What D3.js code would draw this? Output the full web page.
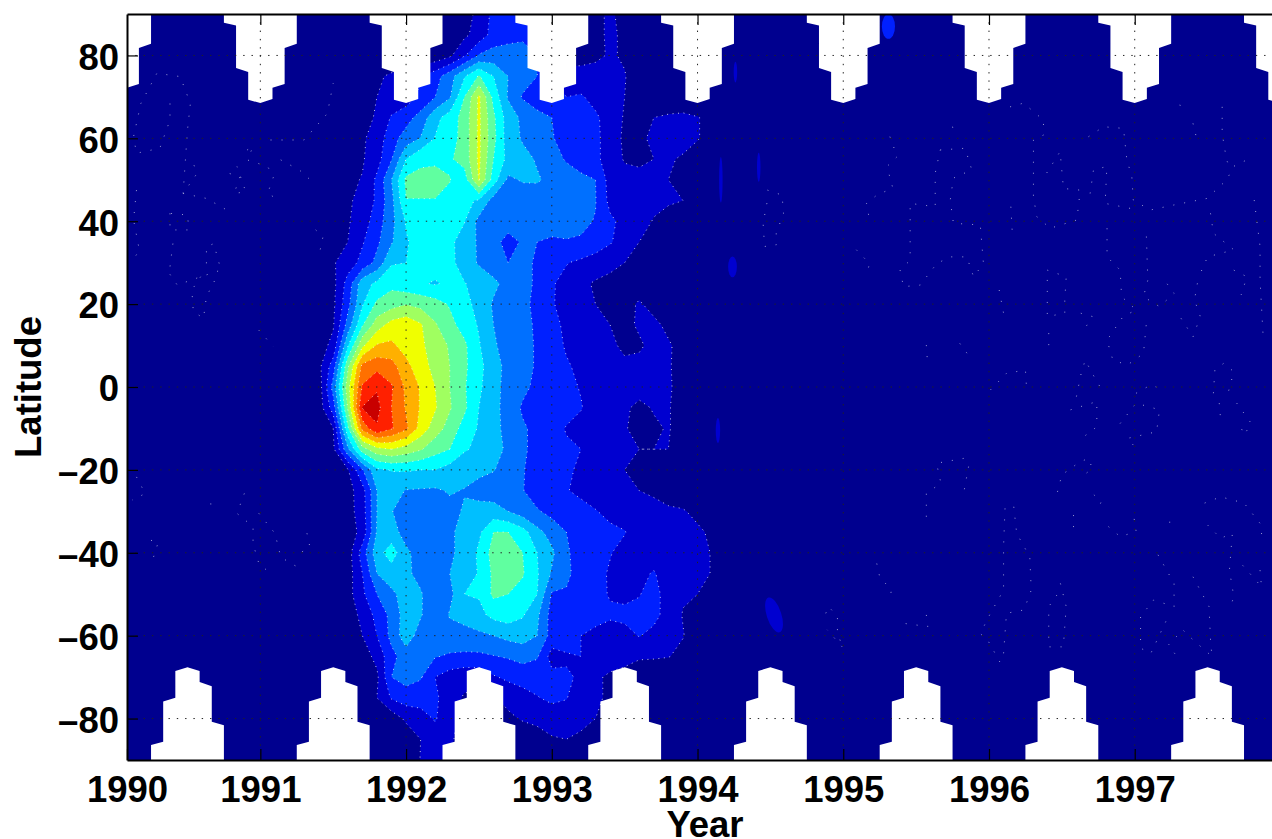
<!DOCTYPE html>
<html>
<head>
<meta charset="utf-8">
<script src="https://cdn.jsdelivr.net/npm/d3@7"></script>
<style>
html,body{margin:0;padding:0;background:#fff;overflow:hidden}
svg{display:block}
text{font-family:"Liberation Sans",Arial,sans-serif;font-weight:700;fill:#000}
</style>
</head>
<body>
<svg id="chart" width="1272" height="839"></svg>
<script>
// Field values in contour-band units, one row per latitude (90 to -90, step 5),
// one column per 0.1 year starting at 1991.3. Omitted trailing columns are below the first level.
const fieldStartYear = 1991.3;
const fieldYearStep = 0.1;
const fieldLatStep = 5;
const field = [
/* 90*/[0,0,0,0,0,0,0,0,0,0,.2,.7,1.2,2.3,2.5,2.5,2,2,1.5,.6,.7,1.2,.6],
/* 85*/[0,0,0,0,0,0,0,0,0,0,.4,.8,1.4,2.4,2.6,2.8,2.5,2,1,.5,.7,1.2,.8],
/* 80*/[0,0,0,0,0,0,0,0,.1,.3,.8,1.9,3.1,3.4,3.5,3.4,3,2,.5,.6,.8,1.1,.9,.3],
/* 75*/[0,0,0,0,.2,.8,1.2,1.5,2,2.6,3.6,4.9,6.1,5,4,3.5,3,2,1.5,1.4,1.4,1.3,1.05,.5],
/* 70*/[0,0,0,0,.3,1,1.3,1.5,2.2,3,3.9,6,8.2,5.7,3.9,2.9,2.3,2.1,2,2.1,1.7,1.3,1,.4],
/* 65*/[0,.1,.2,.4,.7,1.1,2.1,2.6,3.4,4.7,5.45,6.4,8.2,6.2,4.5,3.8,3.4,3,2.7,2.4,2.15,1.6,.9,.7,1,1.2,1.3,1.05,.7,.3,.1],
/* 60*/[0,.2,.3,.5,.85,1.45,2.6,3.45,4.05,5.05,5.55,6.4,8.2,6.3,4.5,3.9,3.4,3.05,2.75,2.45,2.2,1.6,.8,.9,1.1,1.25,1.3,1.05,.7,.3,.2],
/* 55*/[0,.2,.3,.6,.9,1.6,2.95,5,5.85,5.9,5.88,6.4,8.2,6,4.7,4.3,3.9,3.4,2.9,2.6,2.2,1.6,.9,.8,1,1.1,.9,.6,.4],
/* 50*/[0,.2,.5,.8,1.05,2.2,4,6.2,6.2,6.2,6.03,5.5,8.1,5.5,3.8,4.1,4.1,3.75,3.5,3.2,3,1.6,1.4,1.3,1.1,1,.7,.4,.3],
/* 45*/[0,.2,.5,.9,1.2,2.2,3.7,5.98,5.98,5.98,5.8,5.2,4.9,3.6,3.4,3.4,3.5,3.5,3.4,3.25,3.05,1.7,1.4,1.3,1.2,1.1,1,.6,.3],
/* 40*/[0,.2,.6,.9,1.5,2.5,3.7,5.1,5.3,5.3,5.2,5.05,3.7,3.5,3.4,3.5,3.5,3.3,3.3,3.2,2.95,2.2,1.7,1.3,.95,.7,.4],
/* 35*/[0,.2,.6,1,1.9,2.8,3.9,4.9,5.4,5.4,5.2,4.6,3.85,3.3,2.7,3.1,3,2.9,2.95,2.9,2.6,2.1,1.5,1,.8,.5,.2],
/* 30*/[0,.3,.9,1.5,2.3,3.3,4.9,5,5.4,5.5,5.3,4.5,3.9,3.5,3,3.2,2.9,2.2,2.05,1.8,1.5,1.3,1,.7,.5,.2],
/* 25*/[0,.3,.7,2.4,4.6,5.2,5.7,5.3,5.1,4.9,5.2,5.05,4.6,4.2,3.7,3.3,2.85,2.1,1.7,1.2,.9,.7,.6,.6,.5,.2],
/* 20*/[0,.1,.8,2.7,4.9,6.2,6.6,6.95,6.7,6.4,5.9,5.4,4.6,3.9,3.6,3.2,2.8,2.1,1.6,1.2,1,.7,.7,1.1,.7,.2],
/* 15*/[0,.3,.9,3.4,5.9,7.5,8.4,8.7,8.1,7.1,6.3,5.6,4.9,4,3.6,3.2,2.9,2.3,1.8,1.4,1.15,1,.8,1.1,1.2,.8,.2],
/* 10*/[0,.5,1.3,4.9,7.8,9.1,9.2,8.6,8.2,7.5,6.9,6.2,5.1,4.1,3.7,3.3,2.9,2.4,1.9,1.6,1.3,1.1,.9,.9,1.2,1.1,.7,.2],
/*  5*/[0,.7,2.5,6.8,10.3,10.7,10.4,9.3,8.4,7.7,7,6.2,5.3,4.4,3.7,3.3,2.9,2.5,2.1,1.8,1.5,1.35,1.1,1.2,1.2,1.05,.8,.4],
/*  0*/[0,.4,3.4,7.6,11.1,11.9,11.1,9.8,8.9,8,7,6.1,5.2,4.3,3.7,3.2,2.8,2.5,2.2,1.95,1.7,1.5,1.35,1.25,1.2,1.1,.7,.3],
/* -5*/[0,.4,2.5,7.1,12.05,12.3,11,9.9,8.9,8.1,7.1,6.2,5,4.4,3.5,2.9,2.7,2.5,2.3,2.05,1.6,1.3,1.1,.85,1.05,1.05,.7,.3],
/*-10*/[0,.3,1,5.8,10.3,11.9,11.1,10.2,8.6,7.5,6.6,5.6,4.9,4.3,3.7,3.1,2.8,2.3,1.95,1.7,1.4,1.2,1.05,.8,.9,1.05,.7,.3],
/*-15*/[0,.1,.8,3.8,6.6,7.7,8,7.6,7.1,6.4,6,5.1,4.8,4.4,3.8,3.1,2.8,2.4,2.1,2,1.5,1.25,1.1,1,1,1,.6],
/*-20*/[0,0,.3,.9,2.9,4.8,5.05,5.1,5,5,4.6,4.4,4.2,4.05,3.6,3.05,2.7,2.45,2.1,1.9,1.5,1.2,1,.8,.6,.3],
/*-25*/[0,0,.1,.6,1.6,4,4.4,3.95,3.9,3.85,4.1,3.95,3.7,3.5,3.35,3.05,2.5,2.2,2.05,1.8,1.55,1.3,1.15,1,.85,.6,.3],
/*-30*/[0,0,.1,.6,1.5,4,4.05,3.5,3.3,3.3,3.7,4.1,4.3,4.4,4,3.5,3.1,2.7,2.5,2.3,2.05,1.75,1.5,1.4,1.3,1.15,1.1,.7],
/*-35*/[0,0,.1,.5,1.3,4.1,4.4,3.6,3.3,3.2,3.9,4.2,4.8,6,6,5.4,4.3,3.6,3,2.6,2.3,2.2,2.05,1.5,1.4,1.3,1.3,1.2,.8],
/*-40*/[0,0,.1,.5,2.5,4.6,5.5,4.2,3.6,3.2,3.9,4.2,5.2,6.4,7,6,5,4.2,3.1,2.7,2.4,2.05,1.7,1.5,1.4,1.3,1.3,1.3,.95],
/*-45*/[0,0,.1,.5,2,4,4.5,4.2,3.7,3.1,4,4.3,5.1,6.2,6.6,6.1,5.1,3.9,3.2,2.6,2.3,1.9,1.7,1.7,2.1,1.4,1.3,1.3,.95],
/*-50*/[0,0,.1,.6,1.8,3,3.8,4.4,4.1,3.3,3.7,5,5.1,6.2,6,5.6,5,2.9,2.9,3,2.4,1.9,1.7,1.95,2.4,1.5,1.1,1,.4],
/*-55*/[0,0,.1,.4,1.3,2.3,3.3,4.5,4.1,3.2,4.1,4.3,4.7,5.3,5.5,5.1,4.2,2.6,2.9,3,2.4,2.2,2.3,2.3,2.3,1.6,.95,.5],
/*-60*/[0,0,0,.2,1,2,3.3,4.6,3.5,3.3,3.5,3.7,3.8,4,4.3,4.4,4,2.6,2.9,2,1.7,1.4,1.6,2.05,1.7,1.2,1.05,.5],
/*-65*/[0,0,0,0,.5,1.3,2.7,3.5,3.4,3.05,2.9,2.8,2.8,2.95,3.1,3.4,3.1,1.6,1.8,2,1.5,1.3,1.2,1.2,1.15,1.05,.7],
/*-70*/[0,0,0,0,0,.8,3,3.4,3.1,2,1.5,1.3,1.3,1.9,2.2,2.3,2.4,2.3,2.2,1.8,1.1,.9,.8],
/*-75*/[0,0,0,0,0,1,2.1,2.5,2.4,2.2,1.4,.9,.9,.9,1.3,1.7,1.95,2.2,2.05,1.4,1.1,.9],
/*-80*/[0,0,0,0,0,0,.4,1.2,1.6,2.1,1.2,.8,.5,.5,.8,1.1,1.3,1.5,1.5,1.3,1,.5],
/*-85*/[0,0,0,0,0,0,0,.3,1,1.5,1.2,.5,0,0,0,.3,.5,.9,1,.8,.3],
/*-90*/[0,0,0,0,0,0,0,0,1.05,1.5,.9,.3]
];
const levels = [1,2,3,4,5,6,7,8,9,10,11,12];
const bandColors = ["#00008f","#0000d0","#0020ff","#0070ff","#00bfff","#00ffff","#60ffa0","#a0ff60","#f0ff00","#ffb000","#ff7000","#ff2000","#c80000"];

// Small isolated patches: [year, lat, half-width in years, half-height in degrees, band, tilt in degrees]
const spots = [
 [1994.16,50,.012,5.5,1,0],[1994.42,53,.012,3.5,1,0],[1994.24,29,.03,2.5,1,0],[1994.14,-10.5,.015,3,1,0],
 [1994.525,-55,.05,4.4,1,-18],[1995.31,87,.045,3,2,0],[1994.26,76,.012,2.5,1,0]
];

// Faint dotted traces in the background field
const traces = [
 [[1995.32,60.4],[1995.37,55.6],[1995.30,53.2],[1995.34,48],[1995.23,46.3],[1995.16,44.3],[1995.18,40.3]],
 [[1994.48,47.5],[1994.58,46.3],[1994.59,41.9],[1994.54,37.1],[1994.54,34.3],[1994.46,33.9],[1994.45,39.5],[1994.48,45.1]],
 [[1995.665,57.2],[1995.836,57.6],[1995.882,52.4],[1995.756,50.4],[1995.734,45.1],[1995.756,39.5],[1995.94,39.1],[1995.962,29.8],[1995.894,26.6],[1995.848,31.4],[1995.734,31.4],[1995.642,29.8],[1995.528,24.6],[1995.413,24.2],[1995.39,28.2],[1995.459,30.6],[1995.459,44.3],[1995.631,43.5],[1995.631,51.6],[1995.665,57.2]],
 [[1996.145,67.6],[1996.237,68.5],[1996.374,64.4],[1996.374,60.8],[1996.305,59.6],[1996.305,45.9],[1996.328,41.1],[1996.42,38.3],[1996.603,40.3],[1996.626,47.5],[1996.511,47.9],[1996.488,56.8],[1996.374,50.4]],
 [[1996.683,60.4],[1996.786,62.8],[1996.923,62.4],[1996.946,54.8],[1996.98,50.8],[1996.99,45.1],[1997.106,42.7],[1997.266,43.9],[1997.495,45.5],[1997.632,50],[1997.677,53.2],[1997.815,55.6]],
 [[1996.694,46.7],[1996.717,52.4],[1996.809,53.2],[1996.797,44.3],[1996.969,43.1]],
 [[1996.81,38.3],[1996.81,31.4],[1996.9,28.2],[1996.91,21.8],[1997.01,18.6],[1996.92,17],[1996.81,11.3],[1996.85,6.5],[1996.95,5.3],[1997.06,8.1],[1997.08,15.4]],
 [[1997.08,36.3],[1997.09,25.8],[1997.06,21.8],[1997.17,19.4],[1997.27,22.6],[1997.22,25]],
 [[1996.4,28.2],[1996.53,26.6],[1996.52,21],[1996.52,17.8],[1996.4,17],[1996.4,24.2],[1996.4,28.2]],
 [[1997.43,25],[1997.41,21],[1997.45,17],[1997.4,12.1],[1997.31,17]],
 [[1997.52,41.9],[1997.54,37.1],[1997.68,33.1],[1997.5,31.4],[1997.43,25.8]],
 [[1997.82,45.1],[1997.86,33.9],[1997.86,25.8],[1997.88,13]],
 [[1997.68,28.2],[1997.77,26.6],[1997.73,22.2]],
 [[1996.01,-.7],[1996.12,3.3],[1996.25,4.1],[1996.26,-1.5]],
 [[1996.6,-2.3],[1996.63,2.9],[1996.66,6.5],[1996.74,1.3],[1996.79,-1.5]],
 [[1997.54,-1.5],[1997.55,4.1],[1997.61,5.7],[1997.68,3.7],[1997.64,-1.5]],
 [[1997.01,-1.5],[1997.11,.5],[1997.17,-.3]],
 [[1995.57,10.1],[1995.58,4.9]],[[1995.8,10.5],[1995.85,8.1]],[[1996.41,13],[1996.41,9]],[[1996.15,43.5],[1996.16,37.1]],
 [[1996.63,17.8],[1996.71,17],[1996.65,13.7]],[[1996.07,23.4],[1996.1,17.8]],[[1995.09,33.1],[1995.18,29.8],[1995.16,27]],
 [[1995.75,62.8],[1995.76,60.8]],[[1997.31,68.1],[1997.33,66]],[[1997.4,63.6],[1997.43,59.2]],[[1997.6,67.6],[1997.6,61.2],[1997.63,54.8],[1997.65,53.2]],
 [[1995.57,-31.3],[1995.57,-25.7],[1995.67,-23.2],[1995.64,-18.4],[1995.83,-17.2],[1995.86,-19.2],[1995.83,-24.9]],
 [[1996.11,-29.3],[1996.1,-38.5],[1996.1,-49],[1996.01,-54.6],[1995.94,-59.5],[1995.99,-61],[1996.08,-66.7]],
 [[1996.17,-28.9],[1996.19,-35.3],[1996.28,-41],[1996.29,-49],[1996.24,-53.8],[1996.12,-54.6],[1996.1,-64.3]],
 [[1996.49,-47.4],[1996.53,-53],[1996.51,-62.7],[1996.41,-62.7],[1996.41,-53],[1996.49,-49]],
 [[1997.16,-40.5],[1997.27,-47.4],[1997.27,-53],[1997.13,-51.4],[1997.04,-55.4],[1997.04,-63],[1997.11,-64.3],[1997.24,-54.6]],
 [[1997.4,-45.8],[1997.51,-53],[1997.52,-61],[1997.53,-65],[1997.4,-61],[1997.33,-58.6],[1997.23,-62.3],[1997.31,-65.9]],
 [[1997.48,-28],[1997.59,-26.5],[1997.75,-28],[1997.86,-32.9],[1997.88,-37.7]],
 [[1997.5,-33.3],[1997.59,-36.5],[1997.67,-35.3],[1997.65,-44.2],[1997.68,-50.6],[1997.65,-53.8]],
 [[1996.56,-5.5],[1996.74,-3.5],[1996.74,-9.6],[1996.65,-12]],
 [[1996.9,-8.8],[1997.01,-3.9],[1997.17,-5.5],[1997.15,-10.8],[1996.95,-12.4],[1997.03,-15.6]],
 [[1997.58,-3.9],[1997.59,-8]],[[1997.7,-3.9],[1997.8,-8.8],[1997.75,-11.6],[1997.71,-8]],
 [[1996.47,-25.3],[1996.5,-21.2],[1996.61,-18.4],[1996.68,-17.2],[1996.71,-19.6],[1996.64,-21.6]],
 [[1996.72,-26],[1996.77,-27.7],[1996.75,-29.3]],[[1996.58,-30.9],[1996.58,-34.1]],
 [[1996.82,-33.7],[1996.9,-36.1],[1997.01,-34.9],[1996.99,-30.5]],
 [[1995.23,-42.6],[1995.25,-45.8],[1995.33,-49],[1995.32,-51.4]],
 [[1994.88,-54.6],[1994.9,-53],[1994.96,-55.4],[1994.96,-59.5],[1995,-63],[1994.89,-58.6]],
 [[1995.57,-55],[1995.58,-57.8],[1995.41,-57]],
 [[1997.86,-44.2],[1997.87,-48.2],[1997.73,-42.6]],[[1997.24,-32.5],[1997.24,-34.5]],
 [[1990.38,68.4],[1990.38,64.4],[1990.31,57.6],[1990.15,56.4],[1990.13,60.4],[1990.18,68.4],[1990.29,75.7],[1990.45,74.9],[1990.52,68.4],[1990.5,62],[1990.47,46.7],[1990.565,51.5],[1990.54,54]],
 [[1990.47,46.7],[1990.63,45.5],[1990.77,42.7]],
 [[1990.38,41.9],[1990.38,37.9],[1990.51,37.9],[1990.5,41.5],[1990.38,41.9]],
 [[1990.4,34.6],[1990.38,29],[1990.36,28.2],[1990.43,24.6],[1990.59,26.6],[1990.73,28.2],[1990.68,34.6],[1990.63,33.8],[1990.63,29.8]],
 [[1990.59,26.6],[1990.53,23.4],[1990.54,18.2],[1990.61,16.6],[1990.63,21.8],[1990.7,26.6]],
 [[1990.15,47.5],[1990.13,40.3],[1990.17,33],[1990.11,29.8]],
 [[1990.79,51.5],[1990.86,50.7],[1990.82,46.7],[1990.9,47.1],[1990.84,53.2]],
 [[1990.91,57.2],[1990.95,58],[1990.91,54.8],[1991.05,53.2],[1991.09,50.7],[1991.05,46.7],[1991.09,45.9]],
 [[1991.07,59.6],[1991.3,59.6],[1991.46,66],[1991.5,73.3]],
 [[1991.14,54.8],[1991.27,52.3],[1991.37,49.1]],
 [[1991.38,37.9],[1991.43,36.3],[1991.41,33]],
 [[1990.99,13.7],[1991.09,9.7]],
 [[1990.89,-25.7],[1990.84,-30.5],[1990.95,-33.7],[1990.95,-37.8],[1990.99,-42.6],[1991.07,-45]],
 [[1990.99,-30.5],[1991.1,-35.3],[1991.14,-41],[1991.21,-42.6],[1991.3,-44.2]],
 [[1991.32,-35.3],[1991.34,-38.6],[1991.23,-41]],
 [[1990.25,-37],[1990.3,-37.4],[1990.26,-41.8]],
 [[1990.15,-21.7],[1990.21,-25.7],[1990.12,-27.3]],
 [[1990.66,-28.1],[1990.66,-29.7]]
];

// Polar-night masks: [months from centre, latitude]
const northCap = [[-3,90],[-3,87.9],[-2,87.2],[-2,77],[-1,76],[-1,69.3],[0,68.5],[1,69.5],[1,72.2],[2,73.1],[2,81.8],[3,82.8],[3,90]];
const southCap = [[-3,-90],[-3,-86.4],[-2,-85.6],[-2,-75.9],[-1,-75],[-1,-68.5],[0,-67.6],[1,-68.5],[1,-71.2],[2,-72.2],[2,-80.8],[3,-81.6],[3,-90]];
const northCapYears = [1990,1991,1992,1993,1994,1995,1996,1997,1998];
const southCapYears = [1990.5,1991.5,1992.5,1993.5,1994.5,1995.5,1996.5,1997.5];

const xTicks = [1990.085,1991,1992,1993,1994,1995,1996,1997];
const yTicks = [-80,-60,-40,-20,0,20,40,60,80];

const W = 1272, H = 839;
const plot = {left:127, right:1272, top:14, bottom:760};
const x = d3.scaleLinear().domain([1990.085,1997.942]).range([plot.left,plot.right]);
const y = d3.scaleLinear().domain([-90,90]).range([plot.bottom,plot.top]);

const svg = d3.select("#chart");
svg.append("defs").append("clipPath").attr("id","plotClip").append("rect")
  .attr("x",plot.left).attr("y",plot.top).attr("width",plot.right-plot.left).attr("height",plot.bottom-plot.top);
const g = svg.append("g").attr("clip-path","url(#plotClip)");

g.append("rect").attr("x",plot.left).attr("y",plot.top).attr("width",plot.right-plot.left).attr("height",plot.bottom-plot.top).attr("fill",bandColors[0]);

// contours
const columns = 31;
const flat = [];
field.forEach(r=>{ for(let i=0;i<columns;i++) flat.push(i<r.length?r[i]:0); });
const contourGen = d3.contours().size([columns,field.length]).thresholds(levels).smooth(true);
const proj = d3.geoTransform({point(px,py){
  this.stream.point(x(fieldStartYear+(px-0.5)*fieldYearStep), y(90-(py-0.5)*fieldLatStep));
}});
const path = d3.geoPath(proj);
const bands = contourGen(flat);
g.selectAll("path.band").data(bands).join("path").attr("class","band")
  .attr("d",path).attr("fill",(d,i)=>bandColors[i+1]);

// patches
g.selectAll("ellipse.spot").data(spots).join("ellipse").attr("class","spot")
  .attr("cx",d=>x(d[0])).attr("cy",d=>y(d[1]))
  .attr("rx",d=>x(d[0]+d[2])-x(d[0])).attr("ry",d=>y(d[1]-d[3])-y(d[1]))
  .attr("transform",d=>`rotate(${d[5]} ${x(d[0])} ${y(d[1])})`)
  .attr("fill",d=>bandColors[d[4]]);

// dotted white contour edges
g.selectAll("path.edge").data(bands).join("path").attr("class","edge")
  .attr("d",path).attr("fill","none").attr("stroke","#fff").attr("stroke-opacity",.75)
  .attr("stroke-width",1).attr("stroke-dasharray","1 4.5");
const traceLine = d3.line().x(d=>x(d[0])).y(d=>y(d[1]));
g.selectAll("path.trace").data(traces).join("path").attr("class","trace")
  .attr("d",traceLine).attr("fill","none").attr("stroke","#fff").attr("stroke-opacity",.6)
  .attr("stroke-width",1).attr("stroke-dasharray","1 10");

// polar-night masks
const capLine = c => d3.line().x(d=>x(c+d[0]/12)).y(d=>y(d[1]));
northCapYears.forEach(c=>g.append("path").attr("d",capLine(c)(northCap)+"Z").attr("fill","#fff"));
southCapYears.forEach(c=>g.append("path").attr("d",capLine(c)(southCap)+"Z").attr("fill","#fff"));

// grid
const gridTicks = xTicks.slice(1);
g.selectAll("line.gx").data(gridTicks).join("line").attr("class","gx")
  .attr("x1",d=>x(d)).attr("x2",d=>x(d)).attr("y1",plot.top).attr("y2",plot.bottom);
g.selectAll("line.gy").data(yTicks).join("line").attr("class","gy")
  .attr("y1",d=>y(d)).attr("y2",d=>y(d)).attr("x1",plot.left).attr("x2",plot.right);
g.selectAll("line.gx,line.gy").attr("stroke","#222").attr("stroke-width",1).attr("stroke-dasharray","1.4 6.9");

// axes
const fmtY = d => d<0 ? "\u2013"+Math.abs(d) : String(d);
const axB = d3.axisBottom(x).tickValues(xTicks).tickFormat(d=>Math.floor(d)).tickSizeInner(-11).tickSizeOuter(0).tickPadding(16);
const axL = d3.axisLeft(y).tickValues(yTicks).tickFormat(fmtY).tickSizeInner(-11).tickSizeOuter(0).tickPadding(8);
const axT = d3.axisTop(x).tickValues(gridTicks).tickFormat("").tickSizeInner(-11).tickSizeOuter(0);
const gb = svg.append("g").attr("transform",`translate(0,${plot.bottom})`).call(axB);
const gl = svg.append("g").attr("transform",`translate(${plot.left},0)`).call(axL);
const gt = svg.append("g").attr("transform",`translate(0,${plot.top})`).call(axT);
[gb,gl,gt].forEach(a=>{
  a.selectAll("path.domain").attr("stroke","#000").attr("stroke-width",2);
  a.selectAll("line").attr("stroke","#000").attr("stroke-width",1.2);
  a.selectAll("text").style("font-size","36.5px").style("font-family",'"Liberation Sans",Arial,sans-serif').style("font-weight",700).attr("fill","#000");
});
gl.selectAll("text").attr("dy","0.38em");

svg.append("text").attr("x",705).attr("y",837).attr("text-anchor","middle").style("font-size","36.5px").text("Year");
svg.append("text").attr("transform","translate(41,387) rotate(-90)").attr("text-anchor","middle").style("font-size","36.5px").text("Latitude");
</script>
</body>
</html>
